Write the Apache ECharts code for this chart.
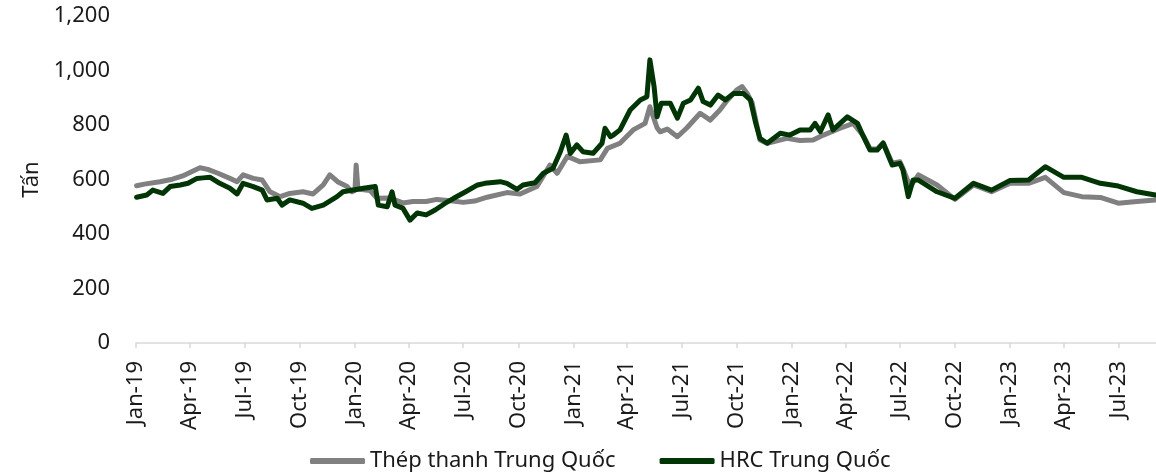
<!DOCTYPE html>
<html><head><meta charset="utf-8">
<script src="https://cdn.jsdelivr.net/npm/echarts@6/dist/echarts.min.js"></script>
<style>html,body{margin:0;padding:0;background:#fff}#c{width:1156px;height:473px}</style>
</head><body><div id="c"></div>
<script>
const tickDates = ['2019-01-01','2019-04-01','2019-07-01','2019-10-01','2020-01-01','2020-04-01','2020-07-01','2020-10-01','2021-01-01','2021-04-01','2021-07-01','2021-10-01','2022-01-01','2022-04-01','2022-07-01','2022-10-01','2023-01-01','2023-04-01','2023-07-01'];
const tickLabels = ['Jan-19','Apr-19','Jul-19','Oct-19','Jan-20','Apr-20','Jul-20','Oct-20','Jan-21','Apr-21','Jul-21','Oct-21','Jan-22','Apr-22','Jul-22','Oct-22','Jan-23','Apr-23','Jul-23'];
const seriesNames = ['Thép thanh Trung Quốc','HRC Trung Quốc'];

const rebarDates = ['2019-01-02','2019-01-15','2019-02-10','2019-03-03','2019-03-20','2019-04-10','2019-04-18','2019-05-01','2019-05-18','2019-06-07','2019-06-19','2019-06-29','2019-07-16','2019-07-31','2019-08-13','2019-08-30','2019-09-15','2019-10-07','2019-10-24','2019-11-10','2019-11-21','2019-12-04','2019-12-20','2019-12-28','2020-01-02','2020-01-04','2020-01-07','2020-01-10','2020-01-27','2020-02-08','2020-03-01','2020-03-22','2020-04-08','2020-04-30','2020-05-18','2020-06-10','2020-07-01','2020-07-20','2020-08-10','2020-09-12','2020-10-04','2020-11-01','2020-11-23','2020-12-05','2020-12-22','2021-01-12','2021-02-15','2021-02-27','2021-03-20','2021-04-11','2021-05-01','2021-05-09','2021-05-21','2021-05-26','2021-06-07','2021-06-24','2021-07-10','2021-08-01','2021-08-18','2021-09-03','2021-09-15','2021-10-02','2021-10-10','2021-10-19','2021-10-27','2021-11-09','2021-11-21','2021-12-24','2022-01-15','2022-02-06','2022-02-23','2022-03-23','2022-04-14','2022-05-01','2022-05-12','2022-05-24','2022-06-03','2022-06-18','2022-07-01','2022-07-06','2022-07-18','2022-08-01','2022-09-01','2022-10-01','2022-11-01','2022-12-01','2023-01-01','2023-02-01','2023-03-01','2023-04-01','2023-05-01','2023-06-01','2023-07-01','2023-08-01','2023-09-01'];
const rebarValues = [577,583,592,601,613,635,643,637,623,604,592,617,604,598,555,537,549,555,547,580,617,592,574,555,560,653,565,561,560,531,532,514,519,519,527,522,516,521,535,552,547,574,653,623,685,665,672,714,733,782,806,867,790,775,785,757,790,843,818,855,890,930,941,915,880,745,733,751,743,745,763,788,806,760,712,712,735,660,665,641,574,617,580,527,580,555,586,586,608,552,537,534,513,519,525];

const hrcDates = ['2019-01-02','2019-01-19','2019-01-29','2019-02-15','2019-02-27','2019-03-16','2019-03-29','2019-04-13','2019-04-23','2019-05-05','2019-05-21','2019-06-07','2019-06-19','2019-06-29','2019-07-16','2019-07-31','2019-08-08','2019-08-25','2019-09-02','2019-09-15','2019-10-07','2019-10-22','2019-11-10','2019-12-03','2019-12-13','2020-01-16','2020-02-05','2020-02-10','2020-02-25','2020-03-04','2020-03-09','2020-03-22','2020-04-03','2020-04-15','2020-04-30','2020-05-15','2020-06-01','2020-06-15','2020-07-05','2020-07-25','2020-08-06','2020-09-01','2020-09-12','2020-09-29','2020-10-09','2020-10-29','2020-11-12','2020-11-28','2020-12-10','2020-12-20','2020-12-27','2021-01-07','2021-01-17','2021-02-03','2021-02-18','2021-02-23','2021-03-04','2021-03-09','2021-03-20','2021-04-06','2021-04-23','2021-05-04','2021-05-09','2021-05-16','2021-05-21','2021-05-28','2021-06-12','2021-06-24','2021-07-04','2021-07-16','2021-07-29','2021-08-06','2021-08-18','2021-08-31','2021-09-12','2021-09-26','2021-10-12','2021-10-24','2021-11-02','2021-11-09','2021-11-21','2021-12-13','2021-12-29','2022-01-15','2022-02-01','2022-02-09','2022-02-18','2022-03-03','2022-03-11','2022-04-04','2022-04-21','2022-05-01','2022-05-12','2022-05-24','2022-06-03','2022-06-18','2022-07-01','2022-07-06','2022-07-15','2022-07-23','2022-08-01','2022-09-01','2022-10-01','2022-11-01','2022-12-01','2023-01-01','2023-02-01','2023-03-01','2023-04-01','2023-05-01','2023-06-01','2023-07-01','2023-08-01','2023-09-01'];
const hrcValues = [535,543,561,549,574,580,586,604,606,608,586,568,547,586,574,561,525,531,506,525,513,494,506,537,555,568,574,506,500,555,506,495,451,477,470,488,513,531,555,580,586,592,586,564,580,588,623,641,700,763,696,727,702,696,733,788,757,763,782,855,892,904,1039,941,830,880,880,825,880,892,935,886,873,910,892,916,916,892,806,751,733,770,763,782,782,806,776,837,782,830,806,757,708,708,733,653,659,635,537,598,598,555,531,586,561,596,598,647,608,608,586,576,555,543];

function ts(s){const p=s.split('-').map(Number);return Date.UTC(p[0],p[1]-1,p[2]);}
const tickTs = tickDates.map(ts);
const labelMap = {}; tickTs.forEach((t,i)=>labelMap[t]=tickLabels[i]);
const pair = (d,v)=>d.map((x,i)=>[ts(x),v[i]]);

const FONT = 'Noto Sans';
const TXT = '#1a1a1a';
const chart = echarts.init(document.getElementById('c'));
chart.setOption({
  animation:false,
  textStyle:{fontFamily:FONT},
  grid:{left:136,right:0,top:16,bottom:130,containLabel:false},
  legend:{left:305,top:445,itemWidth:55,itemHeight:6,itemGap:44,icon:'roundRect',
    textStyle:{fontFamily:FONT,fontSize:22,color:TXT},
    data:seriesNames},
  xAxis:{type:'value',min:ts('2019-01-01'),max:ts('2023-09-02'),
    axisLine:{lineStyle:{color:'#d9d9d9',width:1.5}},
    axisTick:{show:true,customValues:tickTs,length:5,lineStyle:{color:'#d9d9d9',width:1.5}},
    axisLabel:{customValues:tickTs,rotate:90,margin:18,fontSize:22,color:TXT,fontFamily:FONT,
      formatter:v=>labelMap[v]||''},
    splitLine:{show:false}},
  yAxis:{type:'value',min:0,max:1200,interval:200,
    name:'Tấn',nameLocation:'middle',nameGap:82,nameRotate:90,
    nameTextStyle:{fontSize:22,color:TXT,fontFamily:FONT},
    axisLine:{show:false},axisTick:{show:false},splitLine:{show:false},
    axisLabel:{margin:26,fontSize:22,color:TXT,fontFamily:FONT,
      formatter:v=>v.toLocaleString('en-US')}},
  series:[
    {name:seriesNames[0],type:'line',showSymbol:false,symbol:'none',data:pair(rebarDates,rebarValues),
     lineStyle:{color:'#808080',width:5,join:'round',cap:'round'},itemStyle:{color:'#808080'}},
    {name:seriesNames[1],type:'line',showSymbol:false,symbol:'none',data:pair(hrcDates,hrcValues),
     lineStyle:{color:'#023505',width:5,join:'round',cap:'round'},itemStyle:{color:'#023505'}}
  ]
});
</script></body></html>
